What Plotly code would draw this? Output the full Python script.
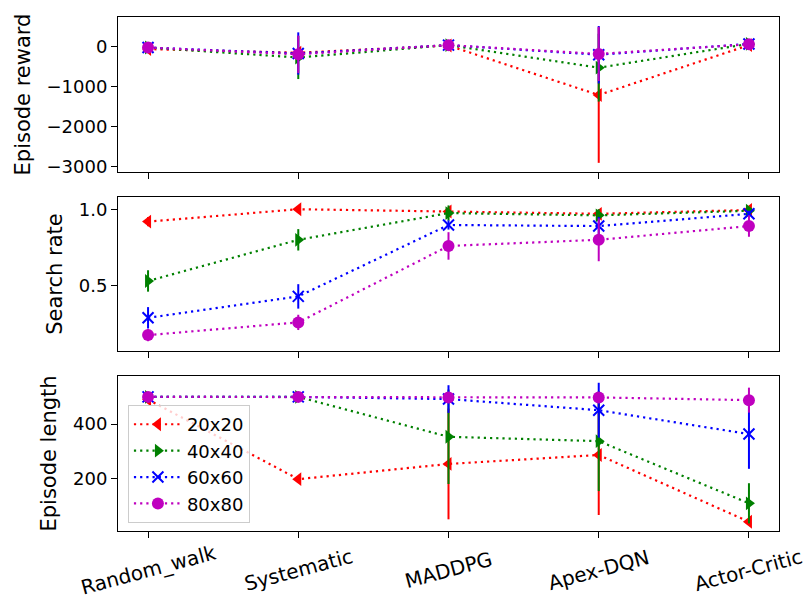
import plotly.graph_objects as go

categories = ["Random_walk", "Systematic", "MADDPG", "Apex-DQN", "Actor-Critic"]
series = ["20x20", "40x40", "60x60", "80x80"]

reward_mean = {
    "20x20": [-60, -150, 30, -1210, 40],
    "40x40": [-20, -270, 40, -525, 70],
    "60x60": [-20, -170, 40, -200, 70],
    "80x80": [-20, -190, 40, -180, 60],
}
reward_err = {
    "20x20": [30, 60, 20, 1700, 30],
    "40x40": [30, 540, 20, 850, 30],
    "60x60": [60, 530, 20, 720, 30],
    "80x80": [30, 470, 20, 680, 30],
}
rate_mean = {
    "20x20": [0.919, 1.0, 0.985, 0.97, 0.995],
    "40x40": [0.531, 0.80, 0.975, 0.96, 0.99],
    "60x60": [0.29, 0.43, 0.897, 0.89, 0.97],
    "80x80": [0.177, 0.26, 0.76, 0.80, 0.89],
}
rate_err = {
    "20x20": [0.03, 0.005, 0.01, 0.02, 0.01],
    "40x40": [0.07, 0.07, 0.05, 0.04, 0.01],
    "60x60": [0.07, 0.08, 0.03, 0.06, 0.02],
    "80x80": [0.04, 0.05, 0.09, 0.14, 0.07],
}
length_mean = {
    "20x20": [490, 197, 253, 286, 40],
    "40x40": [500, 500, 353, 337, 108],
    "60x60": [500, 500, 492, 451, 363],
    "80x80": [500, 500, 498, 498, 488],
}
length_err = {
    "20x20": [10, 10, 204, 221, 8],
    "40x40": [5, 5, 174, 184, 74],
    "60x60": [5, 5, 51, 101, 128],
    "80x80": [5, 5, 10, 10, 46],
}

y_titles = ["Episode reward", "Search rate", "Episode length"]
reward_ticks = [-3000, -2000, -1000, 0]
rate_ticks = [0.5, 1.0]
length_ticks = [200, 400]

colors = {"20x20": "#ff0000", "40x40": "#008000", "60x60": "#0000ff", "80x80": "#bf00bf"}
symbols = {"20x20": "triangle-left", "40x40": "triangle-right", "60x60": "x-thin", "80x80": "circle"}
sizes = {"20x20": 12, "40x40": 12, "60x60": 11, "80x80": 12}

FONT = "DejaVu Sans"
fig = go.Figure()

panels = [(reward_mean, reward_err, "x", "y"),
          (rate_mean, rate_err, "x2", "y2"),
          (length_mean, length_err, "x3", "y3")]

for pi, (means, errs, xa, ya) in enumerate(panels):
    for s in series:
        c = colors[s]
        marker = dict(symbol=symbols[s], size=sizes[s], color=c)
        if symbols[s] == "x-thin":
            marker["line"] = dict(color=c, width=2)
        fig.add_trace(go.Scatter(
            x=categories, y=means[s], name=s, xaxis=xa, yaxis=ya,
            mode="lines+markers",
            line=dict(color=c, width=2.2, dash="2.2px,4px"),
            marker=marker,
            error_y=dict(type="data", array=errs[s], color=c, thickness=2, width=0),
            showlegend=(pi == 2),
            legendgroup=s,
        ))

domains = [[0.6984, 1.0], [0.3502, 0.6498], [0.0, 0.3016]]
ranges = [[-3140, 745], [0.073, 1.08], [6, 577]]
tickvals = [reward_ticks, rate_ticks, length_ticks]
ticktexts = [[("\u2212" + str(-v)) if v < 0 else str(v) for v in reward_ticks],
             ["%.1f" % v for v in rate_ticks],
             [str(v) for v in length_ticks]]

axis_common = dict(showline=True, linecolor="black", linewidth=1, mirror=True,
                   ticks="outside", ticklen=6, tickwidth=1, tickcolor="black",
                   showgrid=False, zeroline=False)

layout = dict(
    width=806, height=599,
    margin=dict(l=118, r=27, t=17, b=68),
    paper_bgcolor="white", plot_bgcolor="white",
    font=dict(family=FONT, color="black", size=18),
    legend=dict(x=0.015, y=0.245, xanchor="left", yanchor="top",
                bgcolor="rgba(255,255,255,0.8)", bordercolor="#cccccc", borderwidth=1,
                font=dict(size=18, family=FONT), tracegroupgap=0, itemwidth=48),
    annotations=[],
)

for i in range(3):
    suf = "" if i == 0 else str(i + 1)
    layout["xaxis" + suf] = dict(axis_common, type="category", range=[-0.2, 4.2],
                                 anchor="y" + suf, showticklabels=False,
                                 categoryorder="array", categoryarray=categories)
    layout["yaxis" + suf] = dict(axis_common, domain=domains[i], range=ranges[i],
                                 anchor="x" + suf, tickvals=tickvals[i], ticktext=ticktexts[i],
                                 tickfont=dict(size=18),
                                 title=dict(text=y_titles[i], font=dict(size=21), standoff=10))

for c in categories:
    layout["annotations"].append(dict(
        x=c, y=-0.076, xref="x3", yref="paper", text=c, showarrow=False,
        textangle=-15, xanchor="center", yanchor="middle",
        font=dict(size=20, family=FONT, color="black")))

fig.update_layout(**layout)
fig.write_html("out.html")
